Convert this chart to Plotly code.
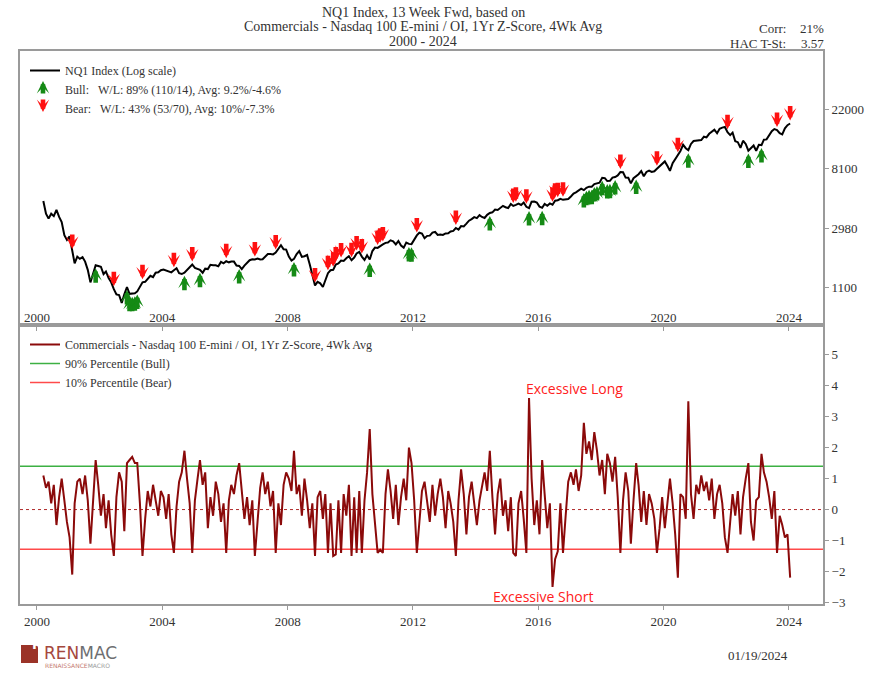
import numpy as np
import pandas as pd
import plotly.graph_objects as go

# ---- data -------------------------------------------------------------
# monthly observations, Mar 2000 .. Jan 2024 (plotted mid-month)
dates = pd.date_range("2000-03-01", "2024-01-01", freq="MS") + pd.Timedelta(days=14)

# NQ1 front-month close
nq_close = [
    4700, 3800, 3500, 3800, 3650, 4050, 3600, 3300, 2650, 2450,
    2600, 2000, 1650, 1850, 1780, 1830, 1700, 1480, 1200, 1380, 1600, 1580,
    1560, 1380, 1440, 1290, 1200, 1070, 980, 970, 850, 980, 1110, 990,
    990, 1000, 1030, 1110, 1200, 1210, 1280, 1340, 1310, 1410, 1420, 1470,
    1490, 1470, 1440, 1420, 1470, 1520, 1400, 1380, 1410, 1480, 1570, 1620,
    1530, 1510, 1480, 1410, 1510, 1500, 1610, 1600, 1600, 1570, 1690, 1650,
    1710, 1680, 1700, 1700, 1590, 1580, 1500, 1590, 1660, 1740, 1770, 1760,
    1790, 1760, 1770, 1850, 1930, 1930, 1920, 1980, 2090, 2240, 2090, 2080,
    1850, 1730, 1780, 1930, 2030, 1840, 1860, 1900, 1620, 1330, 1140, 1210,
    1180, 1110, 1240, 1400, 1470, 1480, 1620, 1650, 1730, 1720, 1800, 1860,
    1740, 1820, 1950, 2000, 1850, 1750, 1890, 1760, 2030, 2150, 2140, 2220,
    2270, 2330, 2340, 2430, 2390, 2270, 2400, 2230, 2150, 2340, 2290, 2280,
    2460, 2640, 2760, 2720, 2520, 2620, 2630, 2770, 2800, 2660, 2680, 2660,
    2730, 2740, 2820, 2850, 2990, 2910, 3090, 3070, 3220, 3380, 3470, 3590,
    3530, 3710, 3600, 3540, 3730, 3850, 3890, 4080, 4050, 4160, 4340, 4240,
    4180, 4470, 4330, 4410, 4510, 4400, 4590, 4270, 4180, 4650, 4670, 4590,
    4280, 4200, 4480, 4340, 4520, 4420, 4730, 4770, 4880, 4800, 4810, 4860,
    5080, 5330, 5440, 5580, 5790, 5650, 5880, 5990, 5980, 6250, 6370, 6400,
    6950, 6900, 6580, 6610, 6970, 7040, 7230, 7650, 7630, 6970, 6950, 6330,
    6900, 7100, 7380, 7780, 7130, 7670, 7850, 7660, 7750, 8080, 8400, 8730,
    9150, 8460, 7810, 8890, 9550, 10160, 10900, 12110, 11420, 11050, 12270, 12890,
    12930, 12900, 13090, 13860, 13690, 14550, 14960, 15580, 14690, 15850, 16140, 16320,
    14930, 14240, 14840, 12850, 12640, 11500, 12950, 12270, 10970, 11410, 11950, 10940,
    12100, 12040, 13180, 13250, 14250, 15180, 15760, 15500, 14720, 14410, 15950, 16830,
    17300,
]

# Commercials net position / OI, 1yr z-score, 4wk avg
zscore = [
    1.1, 0.7, 0.9, 0.2, 0.8, -0.5, 0.4, 1.0, 0.3, -0.4,
    -0.9, -2.1, 0.2, 0.9, 1.0, 0.5, 1.1, 0.3, -1.1, 0.4, 1.6, 0.8,
    -0.2, 0.5, -0.6, 0.3, -0.8, -1.5, 0.4, 1.2, 0.9, -0.7, 1.5, 1.6,
    1.7, 1.5, 1.5, 0.2, -1.5, -0.3, 0.6, 0.1, 0.8, 0.3, -0.2, 0.6,
    0.4, -0.3, 0.5, -0.8, -1.4, 0.1, 0.9, 1.2, 1.9, 1.0, 0.2, -1.4,
    0.3, 1.0, 1.6, 0.8, 1.2, -0.6, 0.4, -0.2, 0.9, 0.5, -0.4, 0.2,
    -1.4, 0.3, 0.8, 0.5, 1.1, 1.5, 0.6, -0.3, 0.4, -0.5, 0.3, -1.5,
    -0.4, 0.7, 1.2, 0.5, 0.9, 0.1, 0.6, -1.4, 0.2, -0.5, 0.8, 1.2,
    1.0, 0.6, 1.9, 0.5, 0.8, -0.2, 1.0, 0.3, -0.6, 0.2, -1.5, 0.4,
    0.6, -0.3, 0.5, -1.4, 0.2, -1.5, -1.45, 0.3, -1.4, 0.5, -0.2, 0.8,
    -1.5, 0.4, -1.4, 0.6, -1.4, 0.3, 1.2, 2.6, 0.5, -0.4, -1.4, -1.3,
    -1.4, 0.5, 1.3, 0.6, -0.3, 0.8, -0.5, 0.4, 1.0, 0.3, 2.0, 1.5,
    0.3, -1.4, -0.5, 0.6, 0.9, 0.3, -0.4, 0.8, -0.2, 0.5, 1.0, 0.4,
    -0.6, 0.6, 0.2, -0.4, -1.5, 0.3, 1.3, 0.5, -0.8, 0.4, 0.9, 0.2,
    -0.5, 0.3, 0.8, 1.2, 0.6, 1.9, 0.4, -0.8, 0.5, 1.0, -0.2, 0.3,
    -0.7, 0.4, -1.4, -1.5, 0.2, 0.6, -0.3, -1.4, 3.6, 1.0, -0.5, 0.3,
    -0.8, 1.6, 0.5, -0.6, 0.2, -2.5, -1.6, -1.35, 0.2, -1.4, -0.2, 0.9,
    1.2, 0.8, 1.3, 0.6, 1.1, 2.8, 1.8, 2.2, 1.6, 2.5, 1.9, 1.1,
    1.6, 0.5, 1.8, 1.5, 0.9, 1.7, 0.4, -1.4, 0.3, 1.2, 0.6, -1.1,
    0.3, 1.5, 0.8, -0.4, 0.6, -0.5, 0.5, 0.2, -0.3, -1.4, -0.6, 0.4,
    -0.6, 0.3, 1.0, 0.2, -0.8, -2.2, 0.5, 0.4, -0.3, 3.5, 0.5, -0.3,
    0.8, 0.5, 1.1, 0.6, 0.9, 0.3, 1.0, -0.3, 0.5, 0.8, 0.2, -0.9,
    -1.4, -0.4, 0.5, -0.2, 0.6, -0.8, 0.4, 1.0, 1.5, -0.4, -1.0, 0.3,
    0.4, 1.8, 1.2, 0.9, 0.4, -0.3, 0.6, -1.4, -0.2, -0.5, -0.9, -0.8,
    -2.2,
]

bull_level = 1.40    # 90% percentile
bear_level = -1.28   # 10% percentile

price_ticks = [1100, 2980, 8100, 22000]
z_ticks = [-3, -2, -1, 0, 1, 2, 3, 4, 5]
year_ticks = [f"{y}-01-01" for y in range(2000, 2025, 4)]
year_labels = [str(y) for y in range(2000, 2025, 4)]

legend_price = "NQ1 Index (Log scale)"
legend_bull = "Bull:\u00a0\u00a0\u00a0W/L: 89% (110/14), Avg: 9.2%/-4.6%"
legend_bear = "Bear:\u00a0\u00a0\u00a0W/L: 43% (53/70), Avg: 10%/-7.3%"
legend_z = "Commercials - Nasdaq 100 E-mini / OI, 1Yr Z-Score, 4Wk Avg"
legend_hi = "90% Percentile (Bull)"
legend_lo = "10% Percentile (Bear)"

# ---- styling ----------------------------------------------------------
W, H = 882, 674
ML, MR, MT, MB = 20, 59, 51, 70
PW, PH = W - ML - MR, H - MT - MB
SPLIT = 325
dom_split = (H - MB - SPLIT) / PH

SERIF = "Liberation Serif"
TXT = "#333333"
FRAME = "#9a9a9a"
GREEN_ARROW = "#158a15"
RED_ARROW = "#ff1010"
Z_COLOR = "#8b0a0a"
HI_COLOR = "#3cb043"
LO_COLOR = "#ff4a4a"

ARROW = dict(showarrow=True, arrowhead=3, arrowsize=0.45, arrowwidth=4.6, text="")


def px(xp):
    return (xp - ML) / PW


def py(yp):
    return (H - MB - yp) / PH


z = np.array(zscore)
close = np.array(nq_close, dtype=float)

fig = go.Figure()

# top panel
fig.add_trace(go.Scatter(x=dates, y=close, mode="lines", name=legend_price,
                         line=dict(color="black", width=2), xaxis="x", yaxis="y",
                         legend="legend"))
# legend rows for the signal arrows (the glyph itself is drawn as an annotation)
fig.add_trace(go.Scatter(x=[None], y=[None], mode="markers", name=legend_bull,
                         marker=dict(size=8, color="rgba(0,0,0,0)"),
                         xaxis="x", yaxis="y", legend="legend"))
fig.add_trace(go.Scatter(x=[None], y=[None], mode="markers", name=legend_bear,
                         marker=dict(size=8, color="rgba(0,0,0,0)"),
                         xaxis="x", yaxis="y", legend="legend"))

# bottom panel
fig.add_trace(go.Scatter(x=dates, y=z, mode="lines", name=legend_z,
                         line=dict(color=Z_COLOR, width=2), xaxis="x2", yaxis="y2",
                         legend="legend2"))
fig.add_trace(go.Scatter(x=[None], y=[None], mode="lines", name=legend_hi,
                         line=dict(color=HI_COLOR, width=1.5), xaxis="x2", yaxis="y2",
                         legend="legend2"))
fig.add_trace(go.Scatter(x=[None], y=[None], mode="lines", name=legend_lo,
                         line=dict(color=LO_COLOR, width=1.5), xaxis="x2", yaxis="y2",
                         legend="legend2"))

shapes = [
    dict(type="line", xref="x2 domain", yref="y2", x0=0, x1=1, y0=bull_level, y1=bull_level,
         line=dict(color=HI_COLOR, width=1.5), layer="below"),
    dict(type="line", xref="x2 domain", yref="y2", x0=0, x1=1, y0=bear_level, y1=bear_level,
         line=dict(color=LO_COLOR, width=1.5), layer="below"),
    dict(type="line", xref="x2 domain", yref="y2", x0=0, x1=1, y0=0, y1=0,
         line=dict(color="#b02a2a", width=1, dash="dot"), layer="below"),
]

annotations = []

# signal arrows on the index line
for d, v, zz in zip(dates, close, z):
    if zz > bull_level:
        annotations.append(dict(ARROW, x=d, y=np.log10(v), xref="x", yref="y",
                                ax=0, ay=16, arrowcolor=GREEN_ARROW, yshift=-3))
    elif zz < bear_level:
        annotations.append(dict(ARROW, x=d, y=np.log10(v), xref="x", yref="y",
                                ax=0, ay=-16, arrowcolor=RED_ARROW, yshift=3))

# arrow glyphs for the legend rows
annotations.append(dict(ARROW, x=px(43), y=py(81), xref="paper", yref="paper",
                        ax=0, ay=14, arrowcolor=GREEN_ARROW))
annotations.append(dict(ARROW, x=px(43), y=py(112), xref="paper", yref="paper",
                        ax=0, ay=-14, arrowcolor=RED_ARROW))

# titles and stats
for txt, yp in [("NQ1 Index, 13 Week Fwd, based on", 13),
                ("Commercials - Nasdaq 100 E-mini / OI, 1Yr Z-Score, 4Wk Avg", 27),
                ("2000 - 2024", 41)]:
    annotations.append(dict(x=px(423), y=py(yp), xref="paper", yref="paper", text=txt,
                            showarrow=False, xanchor="center", yanchor="middle",
                            font=dict(family=SERIF, size=14, color=TXT)))
for lab, val, yp in [("Corr:", "21%", 29), ("HAC T-St:", "3.57", 44)]:
    annotations.append(dict(x=px(788), y=py(yp), xref="paper", yref="paper", text=lab,
                            showarrow=False, xanchor="right", yanchor="middle",
                            font=dict(family=SERIF, size=13, color=TXT)))
    annotations.append(dict(x=px(826), y=py(yp), xref="paper", yref="paper", text=val,
                            showarrow=False, xanchor="right", yanchor="middle",
                            font=dict(family=SERIF, size=13, color=TXT)))

annotations.append(dict(x=px(625), y=3.9, xref="paper", yref="y2", text="Excessive Long",
                        showarrow=False, font=dict(family="Open Sans", size=14, color="#ff2020")))
annotations.append(dict(x=px(543), y=-2.8, xref="paper", yref="y2", text="Excessive Short",
                        showarrow=False, font=dict(family="Open Sans", size=14, color="#ff2020")))

# footer
annotations.append(dict(x=px(790), y=py(665), xref="paper", yref="paper", text="01/19/2024",
                        showarrow=False, font=dict(family=SERIF, size=13, color=TXT)))
shapes.append(dict(type="rect", xref="paper", yref="paper", x0=px(21), x1=px(38),
                   y0=py(663), y1=py(645), fillcolor="#9b3328", line=dict(width=0)))
annotations.append(dict(x=px(29.5), y=py(654), xref="paper", yref="paper", text="<b>R</b>",
                        showarrow=False, font=dict(family="DejaVu Sans", size=13, color="white")))
annotations.append(dict(x=px(42), y=py(653), xref="paper", yref="paper",
                        text="<span style='color:#a5483d'>REN</span><span style='color:#6d6e71'>MAC</span>",
                        showarrow=False, xanchor="left", yanchor="middle",
                        font=dict(family="DejaVu Sans", size=17, color="#6d6e71")))
annotations.append(dict(x=px(43), y=py(665), xref="paper", yref="paper",
                        text="<span style='color:#c47a70'>RENAISSANCE</span><span style='color:#9a9a9a'>MACRO</span>",
                        showarrow=False, xanchor="left", yanchor="middle",
                        font=dict(family="DejaVu Sans", size=6)))

axis_common = dict(showline=True, mirror=True, linecolor=FRAME, linewidth=2,
                   showgrid=False, zeroline=False, ticks="outside", ticklen=4,
                   tickcolor=FRAME, tickfont=dict(family=SERIF, size=13, color=TXT))
x_range = ["1999-06-17", "2025-02-01"]

fig.update_layout(
    width=W, height=H, margin=dict(l=ML, r=MR, t=MT, b=MB),
    paper_bgcolor="white", plot_bgcolor="white",
    font=dict(family=SERIF, color=TXT),
    xaxis=dict(axis_common, type="date", range=x_range, anchor="y",
               tickvals=year_ticks, ticktext=year_labels, ticklabelposition="inside",
               domain=[0, 1]),
    yaxis=dict(axis_common, type="log", side="right", anchor="x",
               domain=[dom_split, 1], range=[2.768, 4.767],
               tickvals=price_ticks, ticktext=[str(t) for t in price_ticks]),
    xaxis2=dict(axis_common, type="date", range=x_range, anchor="y2",
                tickvals=year_ticks, ticktext=year_labels, domain=[0, 1]),
    yaxis2=dict(axis_common, side="right", anchor="x2", domain=[0, dom_split],
                range=[-3.05, 5.96], tickvals=z_ticks),
    legend=dict(x=px(25), y=py(56), xanchor="left", yanchor="top",
                bgcolor="rgba(0,0,0,0)", font=dict(family=SERIF, size=12, color=TXT),
                tracegroupgap=0),
    legend2=dict(x=px(25), y=py(330), xanchor="left", yanchor="top",
                 bgcolor="rgba(0,0,0,0)", font=dict(family=SERIF, size=12, color=TXT),
                 tracegroupgap=0),
    shapes=shapes,
    annotations=annotations,
)

fig.write_html("out.html")
